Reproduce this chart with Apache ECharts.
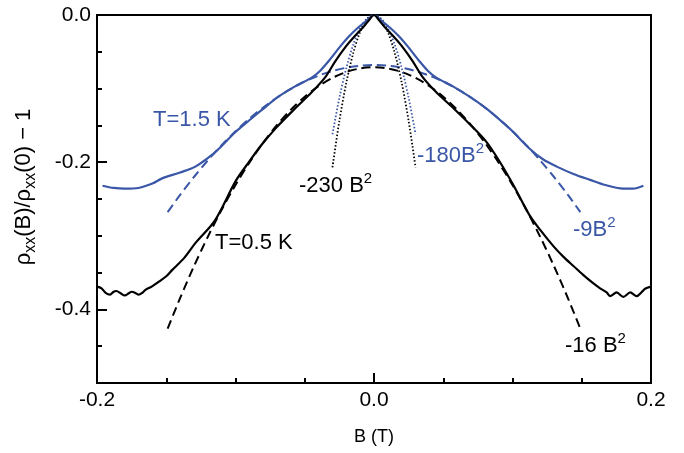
<!DOCTYPE html>
<html>
<head>
<meta charset="utf-8">
<script src="https://cdn.jsdelivr.net/npm/echarts@6/dist/echarts.min.js"></script>
<style>html,body{margin:0;padding:0;background:#fff}#c{width:684px;height:453px}</style>
</head>
<body>
<div id="c"></div>
<script>
// ---- data ----
const yTicks = [0, -0.2, -0.4];

// T = 0.5 K measured curve
const bBlack = [-0.200,-0.197,-0.1935,-0.1906,-0.188,-0.186,-0.183,-0.180,-0.177,-0.175,-0.172,-0.170,-0.167,-0.165,-0.1605,-0.155,-0.150,-0.146,-0.137,-0.129,-0.1148,-0.100,-0.090,-0.081,-0.070,-0.057,-0.045,-0.035,-0.028,-0.020,-0.014,-0.008,-0.004,0,
  0.004,0.008,0.014,0.020,0.028,0.035,0.045,0.057,0.070,0.081,0.090,0.100,0.1126,0.120,0.1295,0.137,0.144,0.151,0.158,0.163,0.168,0.1704,0.1752,0.180,0.185,0.1897,0.193,0.1957,0.200];
const vBlack = [-0.369,-0.371,-0.378,-0.380,-0.376,-0.375,-0.378,-0.381,-0.378,-0.376,-0.378,-0.380,-0.377,-0.3735,-0.369,-0.362,-0.355,-0.347,-0.330,-0.310,-0.279,-0.226,-0.199,-0.176,-0.152,-0.127,-0.105,-0.084,-0.063,-0.042,-0.029,-0.017,-0.008,0,
  -0.008,-0.017,-0.029,-0.042,-0.063,-0.084,-0.105,-0.126,-0.150,-0.172,-0.197,-0.229,-0.273,-0.292,-0.314,-0.329,-0.341,-0.353,-0.364,-0.371,-0.377,-0.382,-0.377,-0.383,-0.377,-0.382,-0.377,-0.372,-0.369];

// T = 1.5 K measured curve
const bBlue = [-0.196,-0.188,-0.180,-0.170,-0.160,-0.153,-0.140,-0.129,-0.117,-0.110,-0.100,-0.090,-0.081,-0.069,-0.057,-0.045,-0.039,-0.032,-0.0245,-0.018,-0.012,-0.006,0,
  0.006,0.012,0.018,0.0245,0.032,0.039,0.045,0.057,0.069,0.081,0.093,0.100,0.1126,0.122,0.132,0.144,0.156,0.167,0.178,0.187,0.1945];
const vBlue = [-0.232,-0.235,-0.236,-0.235,-0.229,-0.222,-0.214,-0.206,-0.190,-0.178,-0.159,-0.143,-0.129,-0.111,-0.097,-0.085,-0.076,-0.061,-0.043,-0.029,-0.018,-0.009,0,
  -0.009,-0.018,-0.029,-0.043,-0.061,-0.076,-0.085,-0.097,-0.111,-0.127,-0.146,-0.158,-0.182,-0.196,-0.206,-0.216,-0.224,-0.231,-0.2355,-0.236,-0.232];

// parabolic fits (dashed)
const bFit = [-0.149,-0.14,-0.13,-0.12,-0.11,-0.10,-0.09,-0.08,-0.07,-0.06,-0.05,-0.04,-0.03,-0.02,-0.01,0,0.01,0.02,0.03,0.04,0.05,0.06,0.07,0.08,0.09,0.10,0.11,0.12,0.13,0.14,0.149];
const vFit16 = [-0.4262,-0.3846,-0.3414,-0.3014,-0.2646,-0.231,-0.2006,-0.1734,-0.1494,-0.1286,-0.111,-0.0966,-0.0854,-0.0774,-0.0726,-0.071,-0.0726,-0.0774,-0.0854,-0.0966,-0.111,-0.1286,-0.1494,-0.1734,-0.2006,-0.231,-0.2646,-0.3014,-0.3414,-0.3846,-0.4262];
const vFit9 = [-0.2678,-0.2444,-0.2201,-0.1976,-0.1769,-0.158,-0.1409,-0.1256,-0.1121,-0.1004,-0.0905,-0.0824,-0.0761,-0.0716,-0.0689,-0.068,-0.0689,-0.0716,-0.0761,-0.0824,-0.0905,-0.1004,-0.1121,-0.1256,-0.1409,-0.158,-0.1769,-0.1976,-0.2201,-0.2444,-0.2678];

// narrow parabolic fits (dotted)
const bNarrow = [-0.03,-0.025,-0.02,-0.015,-0.01,-0.005,0,0.005,0.01,0.015,0.02,0.025,0.03];
const vFit230 = [-0.207,-0.1438,-0.092,-0.0518,-0.023,-0.0058,0,-0.0058,-0.023,-0.0518,-0.092,-0.1438,-0.207];
const vFit180 = [-0.162,-0.1125,-0.072,-0.0405,-0.018,-0.0045,0,-0.0045,-0.018,-0.0405,-0.072,-0.1125,-0.162];

// ---- chart ----
const BLUE = '#3a56a6';
const pairs = (xs, ys) => xs.map((x, i) => [x, ys[i]]);
const FONT = 'Liberation Sans, Arial, sans-serif';
const fmt = v => (Math.abs(v) < 1e-9 ? '0.0' : v.toFixed(1));

const chart = echarts.init(document.getElementById('c'), null, {renderer: 'canvas'});
const lineSeries = (name, data, color, width, type, z) => ({
  name, type: 'line', data, showSymbol: false, symbol: 'none', smooth: 0.3,
  lineStyle: {color, width, type}, z, silent: true, animation: false
});
const richSup = (color) => ({
  n: {fontSize: 22, lineHeight: 30, verticalAlign: 'middle', fontFamily: FONT, color: color},
  p: {fontSize: 15, lineHeight: 14, verticalAlign: 'top', fontFamily: FONT, color: color}
});

chart.setOption({
  animation: false,
  grid: {left: 97, right: 33, top: 15, bottom: 70, show: true, borderColor: '#000', borderWidth: 2, backgroundColor: 'transparent'},
  xAxis: {
    type: 'value', min: -0.2, max: 0.2, interval: 0.2,
    axisLine: {onZero: false, lineStyle: {color: '#000', width: 2}},
    axisTick: {inside: true, length: 10, lineStyle: {color: '#000', width: 2}},
    minorTick: {show: true, splitNumber: 4, length: 5, lineStyle: {color: '#000', width: 2}},
    splitLine: {show: false}, minorSplitLine: {show: false},
    axisLabel: {color: '#000', fontSize: 21, fontFamily: FONT, margin: 7, formatter: fmt},
    name: 'B (T)', nameLocation: 'middle', nameGap: 45,
    nameTextStyle: {color: '#000', fontSize: 18, fontFamily: FONT}
  },
  yAxis: [{
    type: 'value', min: -0.5, max: 0, interval: 0.05,
    axisLine: {onZero: false, lineStyle: {color: '#000', width: 2}},
    axisTick: {inside: true, length: 5, lineStyle: {color: '#000', width: 2}},
    splitLine: {show: false},
    axisLabel: {show: false},
    name: '{m|ρ}{s|xx}{m|(B)/ρ}{s|xx}{m|(0) − 1}', nameLocation: 'middle', nameGap: 58,
    nameTextStyle: {color: '#000', fontFamily: FONT, padding: [0, 0, 0, 24],
      rich: {
        m: {fontSize: 22, lineHeight: 30, verticalAlign: 'middle', fontFamily: FONT, color: '#000'},
        s: {fontSize: 16, lineHeight: 14, verticalAlign: 'bottom', fontFamily: FONT, color: '#000'}
      }}
  }, {
    type: 'value', min: -0.5, max: 0, interval: 0.05, position: 'left',
    axisLine: {show: false, onZero: false},
    axisTick: {inside: true, length: 10, customValues: yTicks, lineStyle: {color: '#000', width: 2}},
    splitLine: {show: false},
    axisLabel: {color: '#000', fontSize: 21, fontFamily: FONT, margin: 6, formatter: fmt, customValues: yTicks}
  }],
  series: [
    lineSeries('fit9', pairs(bFit, vFit9), BLUE, 2, [9, 5], 2),
    lineSeries('fit16', pairs(bFit, vFit16), '#000', 2, [9, 5], 3),
    lineSeries('fit180', pairs(bNarrow, vFit180), BLUE, 1.8, [1.5, 2], 4),
    lineSeries('fit230', pairs(bNarrow, vFit230), '#000', 1.8, [1.5, 2], 4),
    lineSeries('T=1.5 K', pairs(bBlue, vBlue), BLUE, 2.2, 'solid', 5),
    lineSeries('T=0.5 K', pairs(bBlack, vBlack), '#000', 2.2, 'solid', 6)
  ],
  graphic: [
    {type: 'text', x: 153, y: 120, style: {text: 'T=1.5 K', fill: BLUE, font: '22px ' + FONT, align: 'left', verticalAlign: 'middle'}},
    {type: 'text', x: 215, y: 243, style: {text: 'T=0.5 K', fill: '#000', font: '22px ' + FONT, align: 'left', verticalAlign: 'middle'}},
    {type: 'text', x: 299, y: 186, style: {text: '{n|-230 B}{p|2}', fill: '#000', align: 'left', verticalAlign: 'middle', rich: richSup('#000')}},
    {type: 'text', x: 417, y: 156, style: {text: '{n|-180B}{p|2}', fill: BLUE, align: 'left', verticalAlign: 'middle', rich: richSup(BLUE)}},
    {type: 'text', x: 573, y: 230, style: {text: '{n|-9B}{p|2}', fill: BLUE, align: 'left', verticalAlign: 'middle', rich: richSup(BLUE)}},
    {type: 'text', x: 565, y: 346, style: {text: '{n|-16 B}{p|2}', fill: '#000', align: 'left', verticalAlign: 'middle', rich: richSup('#000')}}
  ]
});
</script>
</body>
</html>
